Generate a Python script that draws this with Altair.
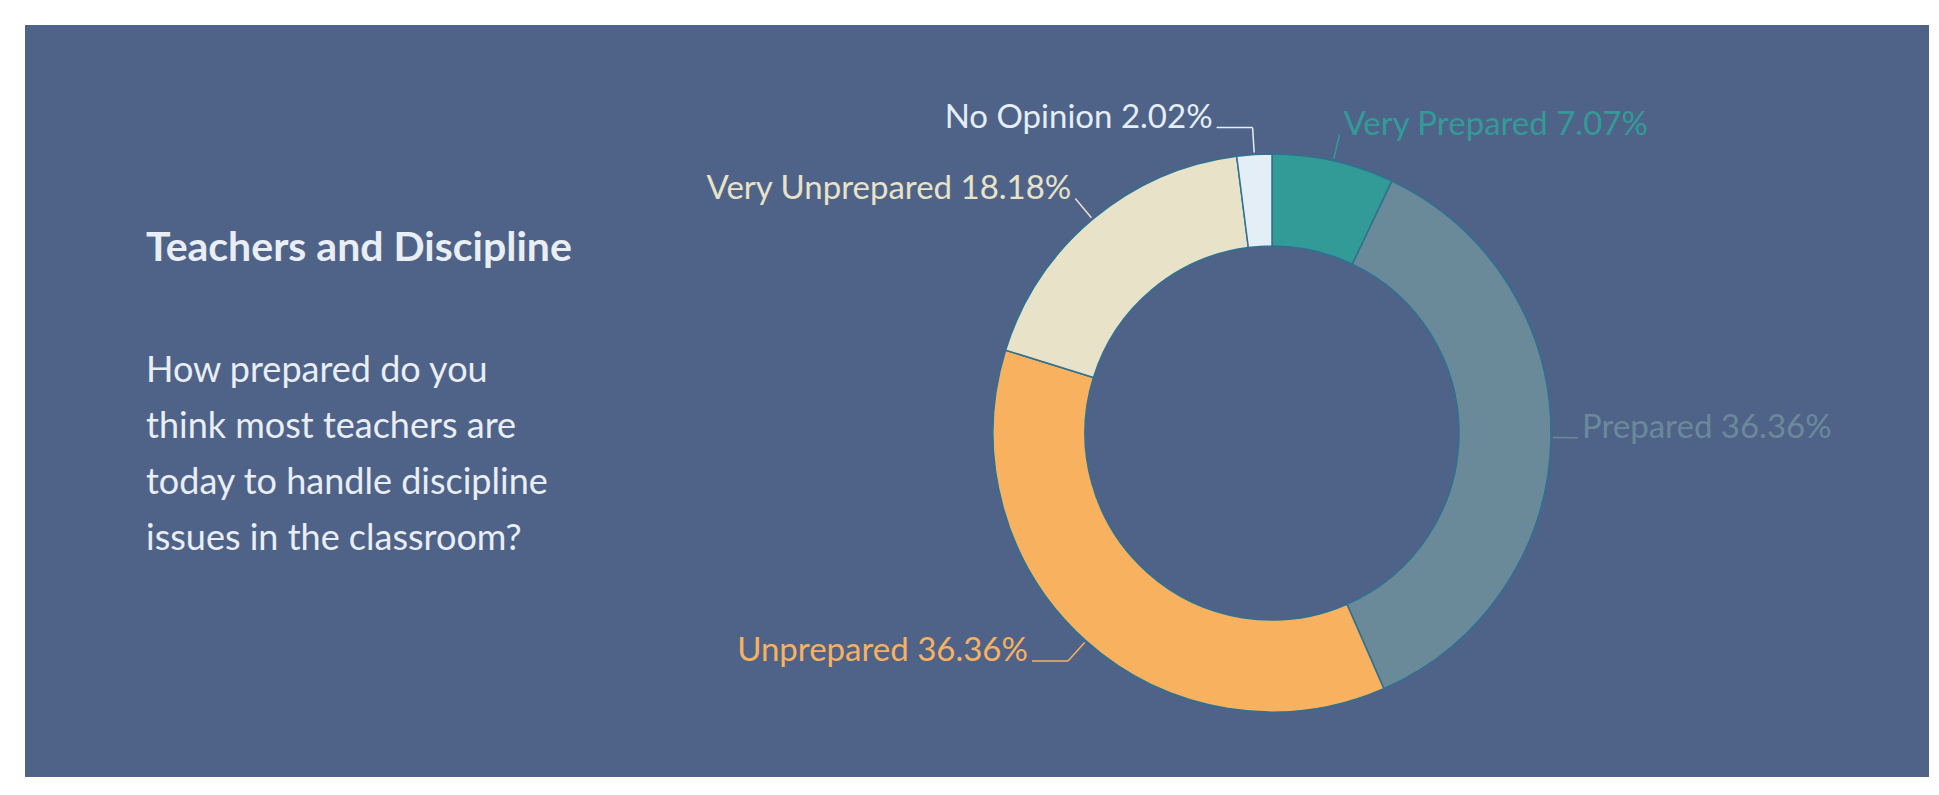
import altair as alt
import pandas as pd

# ---- data ----
categories = ["Very Prepared", "Prepared", "Unprepared", "Very Unprepared", "No Opinion"]
percentages = [7.07, 36.36, 36.36, 18.18, 2.02]
slice_colors = ["#339b97", "#6a8a9a", "#f8b15f", "#e8e3c8", "#e4eef6"]

title_text = "Teachers and Discipline"
question_lines = [
    "How prepared do you",
    "think most teachers are",
    "today to handle discipline",
    "issues in the classroom?",
]

# ---- layout / style constants ----
PANEL_W, PANEL_H = 1904, 752
BG = "#4f6389"
TEXT_LIGHT = "#e9eef5"
CX, CY = 1247, 408          # donut centre (view px)
R_OUT, R_IN = 279, 187
R_LEAD0, R_LEAD1 = 281, 306
LABEL_GAP = 4
# horizontal tails for labels that are pushed sideways in the reference
TAIL_LABELS = ["No Opinion", "Unprepared"]
TAIL_LEN = 36

df = pd.DataFrame({"category": categories, "pct": percentages,
                   "order": list(range(len(categories)))})

color = alt.Color("category:N", scale=alt.Scale(domain=categories, range=slice_colors),
                  legend=None)

arc = alt.Chart(df).mark_arc(
    innerRadius=R_IN, outerRadius=R_OUT, stroke="#2e7191", strokeWidth=1.5
).encode(
    theta=alt.Theta("pct:Q", stack=True),
    color=color,
    order=alt.Order("order:Q"),
    x=alt.value(CX),
    y=alt.value(CY),
)

tail_list = "[" + ",".join(f"'{c}'" for c in TAIL_LABELS) + "]"

geo = alt.Chart(df).transform_window(
    cum="sum(pct)", sort=[alt.SortField("order")], frame=[None, 0]
).transform_joinaggregate(
    total="sum(pct)"
).transform_calculate(
    ang="2*PI*(datum.cum - datum.pct/2)/datum.total",
    tail=f"indexof({tail_list}, datum.category) >= 0 ? {TAIL_LEN} : 0",
).transform_calculate(
    side="sin(datum.ang) > 0 ? 1 : -1",
    lx0=f"{CX} + {R_LEAD0}*sin(datum.ang)",
    ly0=f"{CY} - {R_LEAD0}*cos(datum.ang)",
    lx1=f"{CX} + {R_LEAD1}*sin(datum.ang)",
    ly1=f"{CY} - {R_LEAD1}*cos(datum.ang)",
    label="datum.category + ' ' + format(datum.pct, '.2f') + '%'",
).transform_calculate(
    lx2="datum.lx1 + datum.side*datum.tail",
    tx=f"datum.lx1 + datum.side*(datum.tail + {LABEL_GAP})",
)

leaders = geo.mark_rule(strokeWidth=1.5).encode(
    x=alt.X("lx0:Q", scale=None),
    y=alt.Y("ly0:Q", scale=None),
    x2="lx1:Q",
    y2="ly1:Q",
    color=color,
)
tails = geo.transform_filter("datum.tail > 0").mark_rule(strokeWidth=1.5).encode(
    x=alt.X("lx1:Q", scale=None),
    y=alt.Y("ly1:Q", scale=None),
    x2="lx2:Q",
    y2="ly1:Q",
    color=color,
)

label_font = "Lato"
right_labels = geo.transform_filter("datum.side > 0").mark_text(
    align="left", baseline="alphabetic", font=label_font, fontSize=33
).encode(
    x=alt.X("tx:Q", scale=None),
    y=alt.Y("ly1:Q", scale=None),
    text="label:N",
    color=color,
)
left_labels = geo.transform_filter("datum.side < 0").mark_text(
    align="right", baseline="alphabetic", font=label_font, fontSize=33
).encode(
    x=alt.X("tx:Q", scale=None),
    y=alt.Y("ly1:Q", scale=None),
    text="label:N",
    color=color,
)

title = alt.Chart(pd.DataFrame({"t": [title_text]})).mark_text(
    align="left", baseline="alphabetic", font="Lato", fontWeight="bold",
    fontSize=41, color=TEXT_LIGHT
).encode(x=alt.value(121), y=alt.value(236), text="t:N")

question = alt.Chart(pd.DataFrame({"q": [question_lines]})).mark_text(
    align="left", baseline="alphabetic", font="Lato", fontSize=36,
    lineHeight=56, color=TEXT_LIGHT
).encode(x=alt.value(121), y=alt.value(357), text="q")

chart = alt.layer(arc, leaders, tails, right_labels, left_labels, title, question).properties(
    width=PANEL_W, height=PANEL_H,
    padding={"left": 17, "top": 17, "right": 0, "bottom": 2},
    autosize=alt.AutoSizeParams(type="none"),
    background="#ffffff",
).configure_view(fill=BG, strokeWidth=0)

chart.save("out.html", embed_options={"renderer": "svg", "actions": False})
